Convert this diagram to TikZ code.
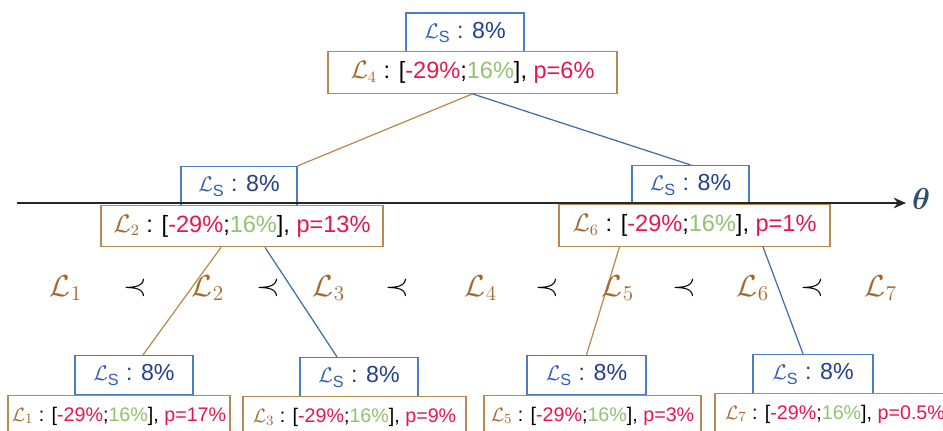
\documentclass[tikz,border=0pt]{standalone}
\usepackage{fontspec}
\setmainfont{Liberation Sans}
\usepackage{amsmath}
\usetikzlibrary{arrows.meta,positioning}
\definecolor{sblue}{HTML}{4A7CC8}
\definecolor{snavy}{HTML}{24408C}
\definecolor{scal}{HTML}{2E5EB5}
\definecolor{lbrown}{HTML}{A5692C}
\definecolor{lline}{HTML}{B98A4E}
\definecolor{lred}{HTML}{E8174B}
\definecolor{lgreen}{HTML}{90C46E}
\definecolor{cblue}{HTML}{3F6DAE}
\definecolor{thetablue}{HTML}{2F4F6F}
\newcommand{\Lsn}{{\color{scal}$\mathcal{L}_{\mathrm{S}}$} : 8\%}
\newcommand{\Lint}[2]{{\color{lbrown}$\mathcal{L}_{#1}$} : [{\color{lred}-29\%};{\color{lgreen}16\%}], {\color{lred}p=#2\%}}
\tikzset{
  sbox/.style={draw=sblue, fill=white, line width=0.7pt, inner sep=0pt,
    minimum width=2.36cm, minimum height=0.78cm, text=snavy,
    font=\fontsize{13.2}{15}\selectfont},
  lbox/.style={draw=lline, fill=white, line width=0.7pt, inner sep=0pt,
    minimum height=0.83cm, font=\fontsize{13.4}{15}\selectfont},
  lboxs/.style={lbox, font=\fontsize{11.2}{13}\selectfont},
  ordl/.style={text=lbrown, font=\fontsize{17}{20}\selectfont},
  ordp/.style={font=\fontsize{17}{20}\selectfont},
  bline/.style={draw=lline, line width=0.7pt},
  sline/.style={draw=cblue, line width=0.7pt}
}

\begin{document}
\begin{tikzpicture}
\clip (0,0) rectangle (18.86,8.6);
\fill[white] (0,0) rectangle (18.86,8.6);

% top of the tree
\node[sbox] (s4) at (9.30,7.95) {\Lsn};
\node[lbox, minimum width=5.78cm] (l4) at (9.45,7.15) {\Lint{4}{6}};

% second level
\node[sbox, minimum width=2.32cm] (s2) at (4.78,4.88) {\Lsn};
\node[lbox, minimum width=5.64cm] (l2) at (4.84,4.08) {\Lint{2}{13}};
\node[sbox, minimum width=2.34cm] (s6) at (13.81,4.90) {\Lsn};
\node[lbox, minimum width=5.42cm] (l6) at (13.89,4.09) {\Lint{6}{1}};

% leaves
\node[sbox] (s1) at (2.68,1.10) {\Lsn};
\node[lboxs, minimum width=4.44cm] (l1) at (2.38,0.28) {\Lint{1}{17}};
\node[sbox] (s3) at (7.18,1.06) {\Lsn};
\node[lboxs, minimum width=4.46cm] (l3) at (7.09,0.25) {\Lint{3}{9}};
\node[sbox, minimum width=2.38cm] (s5) at (11.73,1.10) {\Lsn};
\node[lboxs, minimum width=4.34cm] (l5) at (11.85,0.28) {\Lint{5}{3}};
\node[sbox, minimum width=2.40cm] (s7) at (16.26,1.12) {\Lsn};
\node[lboxs, minimum width=4.8cm] (l7) at (16.70,0.32) {\Lint{7}{0.5}};

% branches
\draw[bline] (l4.south) -- (s2.north east);
\draw[sline] (l4.south) -- (s6.north);
\draw[bline] ([xshift=-0.42cm]l2.south) -- ([xshift=0.18cm]s1.north);
\draw[sline] ([xshift=0.46cm]l2.south) -- ([xshift=-0.44cm]s3.north);
\draw[bline] ([xshift=-1.5cm]l6.south) -- (s5.north);
\draw[sline] ([xshift=1.37cm]l6.south) -- ([xshift=-0.2cm]s7.north);

% order of the levels
\node[ordl] (o1) at (1.32,2.84) {$\mathcal{L}_1$};
\node[ordp] (p1) at (2.70,2.84) {$\prec$};
\node[ordl] (o2) at (4.16,2.84) {$\mathcal{L}_2$};
\node[ordp] (p2) at (5.36,2.84) {$\prec$};
\node[ordl] (o3) at (6.58,2.84) {$\mathcal{L}_3$};
\node[ordp] (p3) at (7.94,2.84) {$\prec$};
\node[ordl] (o4) at (9.62,2.84) {$\mathcal{L}_4$};
\node[ordp] (p4) at (10.94,2.84) {$\prec$};
\node[ordl] (o5) at (12.36,2.84) {$\mathcal{L}_5$};
\node[ordp] (p5) at (13.68,2.84) {$\prec$};
\node[ordl] (o6) at (15.06,2.84) {$\mathcal{L}_6$};
\node[ordp] (p6) at (16.24,2.84) {$\prec$};
\node[ordl] (o7) at (17.62,2.84) {$\mathcal{L}_7$};

% axis
\coordinate (ax) at (0.34,4.54);
\node[text=thetablue, font=\fontsize{17}{20}\selectfont, anchor=west] (theta) at (18.12,4.62) {$\boldsymbol{\theta}$};
\draw[-{Stealth[length=7pt,width=6pt]}, line width=1.4pt, draw=black!85] (ax) -- (ax -| theta.west);
\end{tikzpicture}
\end{document}
